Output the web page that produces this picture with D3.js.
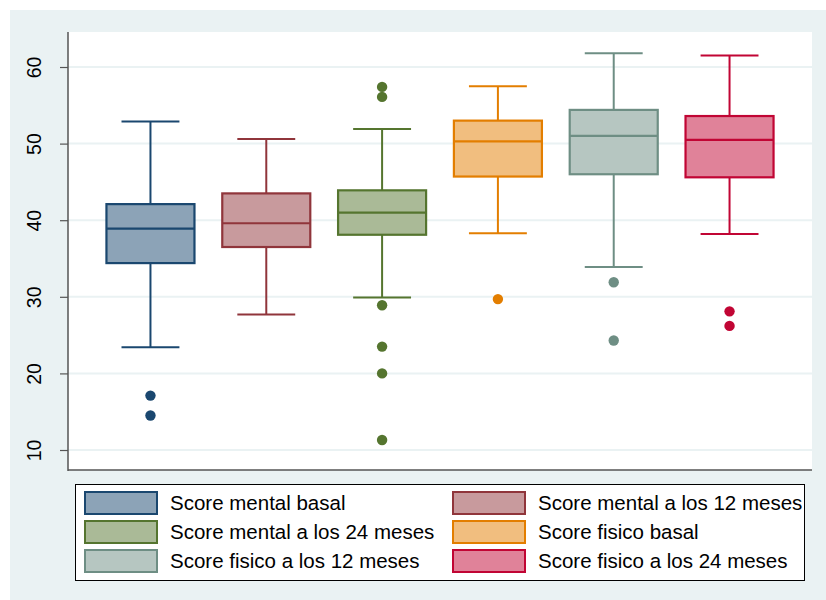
<!DOCTYPE html>
<html>
<head>
<meta charset="utf-8">
<script src="https://cdn.jsdelivr.net/npm/d3@7"></script>
<style>
  html, body { margin: 0; padding: 0; background: #ffffff; }
  svg { display: block; font-family: "Liberation Sans", Arial, sans-serif; }
</style>
</head>
<body>
<svg id="chart" width="826" height="600"></svg>
<script>
// Score distributions: five-number summaries plus outlying observations
const categories = [
  "Score mental basal",
  "Score mental a los 12 meses",
  "Score mental a los 24 meses",
  "Score fisico basal",
  "Score fisico a los 12 meses",
  "Score fisico a los 24 meses"
];
const lowerWhisker = [23.4, 27.7, 29.9, 38.3, 33.9, 38.2];
const q1           = [34.4, 36.5, 38.1, 45.7, 46.0, 45.6];
const median       = [38.9, 39.6, 41.0, 50.3, 51.0, 50.5];
const q3           = [42.1, 43.5, 43.9, 53.0, 54.4, 53.6];
const upperWhisker = [52.9, 50.6, 51.9, 57.5, 61.8, 61.5];
const outliers = [
  [17.1, 14.5],
  [],
  [57.4, 56.1, 28.9, 23.5, 20.0, 11.3],
  [29.7],
  [31.9, 24.3],
  [28.1, 26.2]
];
const yTicks = [10, 20, 30, 40, 50, 60];

const lineColors = ["#1a476f", "#90353b", "#55752f", "#e37e00", "#6e8e84", "#c10534"];
const fillColors = ["#8ca3b7", "#c89a9d", "#aaba97", "#f1be7f", "#b6c6c1", "#e08299"];

const svg = d3.select("#chart");

// outer graph region
svg.append("rect")
  .attr("x", 10).attr("y", 10).attr("width", 816).attr("height", 590)
  .attr("fill", "#eaf2f3");

const plot = { left: 68, right: 812, top: 32, bottom: 470 };

svg.append("rect")
  .attr("x", plot.left).attr("y", plot.top)
  .attr("width", plot.right - plot.left).attr("height", plot.bottom - plot.top)
  .attr("fill", "#ffffff");

const y = d3.scaleLinear().domain([7.39, 64.57]).range([plot.bottom, plot.top]);
const x = d3.scalePoint().domain(categories).range([plot.left, plot.right]).padding(0.712);
const step = x.step();
const boxW = step * 0.76;
const capW = step * 0.5;

// horizontal grid
svg.append("g").selectAll("line").data(yTicks).join("line")
  .attr("x1", plot.left).attr("x2", plot.right)
  .attr("y1", d => y(d)).attr("y2", d => y(d))
  .attr("stroke", "#eaf2f3").attr("stroke-width", 2);

// y axis
const yAxis = svg.append("g")
  .attr("transform", `translate(${plot.left},0)`)
  .call(d3.axisLeft(y).tickValues(yTicks).tickSize(8).tickPadding(0).tickFormat(d3.format("d")));
yAxis.select(".domain").remove();
yAxis.selectAll(".tick line").attr("stroke", "#555").attr("stroke-width", 1.2);
yAxis.selectAll(".tick text").remove();
yAxis.selectAll(".tick").append("text")
  .attr("transform", "translate(-34,0) rotate(-90)")
  .attr("text-anchor", "middle")
  .attr("dy", "0.36em")
  .attr("fill", "#000")
  .style("font-size", "19.5px")
  .style("font-family", "'Liberation Sans', Arial, sans-serif")
  .text(d => d);

svg.append("line")
  .attr("x1", plot.left).attr("x2", plot.left)
  .attr("y1", plot.top).attr("y2", plot.bottom + 1)
  .attr("stroke", "#555").attr("stroke-width", 1.5);
svg.append("line")
  .attr("x1", plot.left).attr("x2", plot.right)
  .attr("y1", plot.bottom).attr("y2", plot.bottom)
  .attr("stroke", "#555").attr("stroke-width", 1.5);

// boxes
const groups = svg.append("g").selectAll("g").data(categories).join("g")
  .attr("transform", d => `translate(${x(d)},0)`);

groups.each(function(c, i) {
  const g = d3.select(this);
  const col = lineColors[i];
  // whiskers
  g.append("line").attr("x1", 0).attr("x2", 0)
    .attr("y1", y(q3[i])).attr("y2", y(upperWhisker[i]))
    .attr("stroke", col).attr("stroke-width", 2);
  g.append("line").attr("x1", 0).attr("x2", 0)
    .attr("y1", y(q1[i])).attr("y2", y(lowerWhisker[i]))
    .attr("stroke", col).attr("stroke-width", 2);
  g.append("line").attr("x1", -capW / 2).attr("x2", capW / 2)
    .attr("y1", y(upperWhisker[i])).attr("y2", y(upperWhisker[i]))
    .attr("stroke", col).attr("stroke-width", 2);
  g.append("line").attr("x1", -capW / 2).attr("x2", capW / 2)
    .attr("y1", y(lowerWhisker[i])).attr("y2", y(lowerWhisker[i]))
    .attr("stroke", col).attr("stroke-width", 2);
  // box
  g.append("rect")
    .attr("x", -boxW / 2).attr("width", boxW)
    .attr("y", y(q3[i])).attr("height", y(q1[i]) - y(q3[i]))
    .attr("fill", fillColors[i]).attr("stroke", col).attr("stroke-width", 2.2);
  g.append("line").attr("x1", -boxW / 2).attr("x2", boxW / 2)
    .attr("y1", y(median[i])).attr("y2", y(median[i]))
    .attr("stroke", col).attr("stroke-width", 2.2);
  // outliers
  g.selectAll("circle").data(outliers[i]).join("circle")
    .attr("cx", 0).attr("cy", d => y(d)).attr("r", 5.2)
    .attr("fill", col);
});

// legend
svg.append("rect")
  .attr("x", 75.5).attr("y", 484.5).attr("width", 729).attr("height", 96)
  .attr("fill", "#ffffff").attr("stroke", "#000").attr("stroke-width", 1);

const legendCols = [85, 453];
const legendRows = [492, 521, 550];
const items = svg.append("g").selectAll("g").data(categories).join("g")
  .attr("transform", (d, i) => `translate(${legendCols[i % 2]},${legendRows[Math.floor(i / 2)]})`);
items.append("rect")
  .attr("x", 0).attr("y", 0).attr("width", 72).attr("height", 22)
  .attr("fill", (d, i) => fillColors[i])
  .attr("stroke", (d, i) => lineColors[i]).attr("stroke-width", 2);
items.append("text")
  .attr("x", 85).attr("y", 11).attr("dy", "0.36em")
  .attr("fill", "#000")
  .style("font-size", "20.5px")
  .text(d => d);
</script>
</body>
</html>
